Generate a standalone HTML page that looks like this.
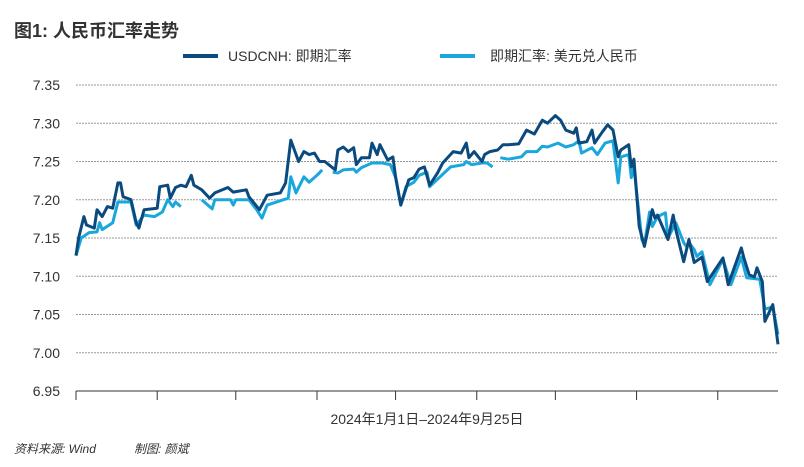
<!DOCTYPE html>
<html><head><meta charset="utf-8"><style>
body{margin:0;background:#fff;}
svg text{font-family:"Liberation Sans","Noto Sans CJK SC",sans-serif;}
</style></head><body>
<svg width="804" height="462" viewBox="0 0 804 462" xmlns="http://www.w3.org/2000/svg">
<text x="14" y="37" font-size="18" font-weight="bold" fill="#333">图1: 人民币汇率走势</text>
<g>
<line x1="183" y1="56" x2="218" y2="56" stroke="#0b4a7e" stroke-width="4"/>
<text x="228" y="61" font-size="14" fill="#333">USDCNH: 即期汇率</text>
<line x1="440" y1="56" x2="475" y2="56" stroke="#1aa7dc" stroke-width="4"/>
<text x="490" y="61" font-size="14" fill="#333">即期汇率: 美元兑人民币</text>
</g>
<g id="grid"></g><g id="yaxis"></g><g id="xaxis"></g><g id="series"></g>
<text x="427" y="424" font-size="14" fill="#333" text-anchor="middle">2024年1月1日–2024年9月25日</text>
<text x="14" y="453" font-size="12" font-style="italic" fill="#333">资料来源: Wind</text>
<text x="134" y="453" font-size="12" font-style="italic" fill="#333">制图: 颜斌</text>
</svg>
<script>
const yTicks=[6.95,7.00,7.05,7.10,7.15,7.20,7.25,7.30,7.35];
const xTickDays=[0,31,61,92,122,153,183,214,245];
const darkDays=[0,1,3,4,7,8,10,12,14,16,17,18,21,23,24,26,31,32,35,36,38,40,42,44,45,48,51,53,58,60,65,66,70,73,78,80,82,85,87,89,91,93,95,99,100,102,104,106,107,109,112,113,115,116,119,121,122,124,127,129,131,133,135,138,140,144,147,149,150,152,155,156,158,161,163,165,169,172,175,178,180,183,185,187,190,191,192,195,197,198,201,203,205,207,208,211,212,213,215,217,220,221,222,226,228,229,232,234,236,239,241,247,249,254,255,257,259,260,262,263,266,268];
const darkVals=[7.127,7.150,7.178,7.167,7.163,7.187,7.178,7.191,7.189,7.222,7.222,7.204,7.200,7.170,7.163,7.187,7.189,7.217,7.219,7.202,7.216,7.219,7.217,7.232,7.219,7.213,7.202,7.209,7.216,7.210,7.213,7.204,7.187,7.206,7.209,7.222,7.278,7.250,7.263,7.259,7.261,7.250,7.250,7.239,7.265,7.269,7.263,7.268,7.246,7.255,7.255,7.274,7.259,7.272,7.252,7.256,7.230,7.193,7.226,7.229,7.240,7.243,7.219,7.235,7.248,7.263,7.261,7.274,7.255,7.263,7.250,7.259,7.263,7.265,7.272,7.272,7.273,7.291,7.286,7.304,7.300,7.310,7.304,7.291,7.287,7.294,7.274,7.276,7.291,7.274,7.289,7.298,7.291,7.256,7.265,7.272,7.243,7.253,7.165,7.139,7.187,7.176,7.180,7.148,7.180,7.161,7.119,7.148,7.118,7.125,7.093,7.124,7.089,7.137,7.124,7.102,7.099,7.111,7.093,7.041,7.063,7.011];
const lightDays=[0,2,5,8,9,10,14,16,21,23,26,30,33,35,37,38,40,41,47,48,52,53,59,60,61,66,69,71,73,81,82,84,87,89,92,94,95,97,98,100,102,106,107,109,113,117,120,122,124,126,129,131,134,135,143,148,149,151,155,157,159,160,161,162,165,170,172,176,178,180,184,187,190,192,193,197,199,202,205,207,208,211,212,213,216,217,219,220,222,225,226,229,232,233,234,236,237,239,242,247,250,254,256,261,263,266,268];
const lightVals=[7.127,7.150,7.157,7.158,7.170,7.161,7.170,7.197,7.197,7.167,7.180,7.178,7.184,7.200,7.191,7.197,7.191,null,null,7.200,7.188,7.200,7.200,7.193,7.200,7.200,7.187,7.176,7.193,7.202,7.230,7.209,7.230,7.223,7.232,7.239,null,null,7.236,7.235,7.239,7.240,7.236,7.242,7.248,7.248,7.246,7.229,7.193,7.217,7.223,7.232,7.236,7.217,7.243,7.246,7.250,7.246,7.248,7.248,7.243,null,null,7.255,7.253,7.256,7.263,7.263,7.270,7.269,7.274,7.269,7.272,7.277,7.261,7.268,7.259,7.274,7.277,7.222,7.256,7.259,7.229,7.243,7.148,7.141,7.184,7.165,7.178,7.183,7.150,7.170,7.144,7.139,7.144,7.135,7.126,7.132,7.089,7.122,7.089,7.125,7.098,7.096,7.057,7.060,7.024];
const X0=76,X1=778,Y0=391,Y1=85,DMAX=268;
const xs=d=>X0+(d/DMAX)*(X1-X0);
const ys=v=>Y0-(v-6.95)/(7.35-6.95)*(Y0-Y1);
const NS="http://www.w3.org/2000/svg";
function mk(t,a,p){const e=document.createElementNS(NS,t);for(const k in a)e.setAttribute(k,a[k]);p.appendChild(e);return e;}
const grid=document.getElementById('grid'),ya=document.getElementById('yaxis'),xa=document.getElementById('xaxis'),ser=document.getElementById('series');
yTicks.forEach(v=>{
 if(v>6.96){const g=mk('line',{x1:X0,x2:X1,y1:ys(v),y2:ys(v),stroke:'#999','stroke-width':1,'stroke-dasharray':'2,1'},grid);
 
 }
 const t=mk('text',{x:60,y:ys(v)+5,'font-size':14,fill:'#333','text-anchor':'end'},ya);
 t.textContent=v.toFixed(2);
 
 
});
const ax=mk('line',{x1:X0,x2:X1,y1:Y0,y2:Y0,stroke:'#333','stroke-width':1},xa);


xTickDays.forEach(d=>{const t=mk('line',{x1:xs(d),x2:xs(d),y1:Y0,y2:Y0+9,stroke:'#333','stroke-width':1},xa);
 
 });
function path(days,vals){let s='',pen=false;days.forEach((d,i)=>{const v=vals[i];if(v==null){pen=false;return;}s+=(pen?'L':'M')+xs(d).toFixed(1)+','+ys(v).toFixed(1);pen=true;});return s;}
const pd=mk('path',{d:path(darkDays,darkVals),fill:'none',stroke:'#0b4a7e','stroke-width':3,'stroke-linejoin':'round'},ser);


const pl=mk('path',{d:path(lightDays,lightVals),fill:'none',stroke:'#1aa7dc','stroke-width':3,'stroke-linejoin':'round'},ser);


ser.insertBefore(pl,pd);
</script>
</body></html>
